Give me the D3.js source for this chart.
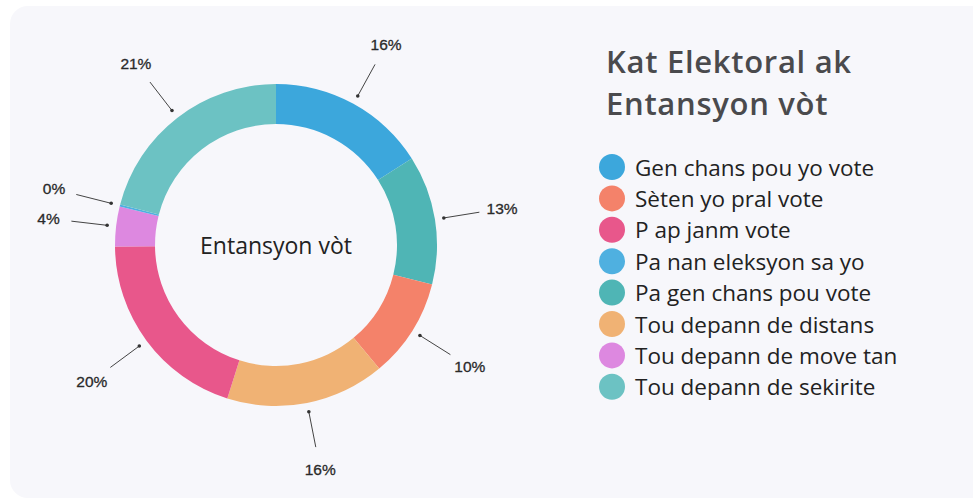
<!DOCTYPE html>
<html>
<head>
<meta charset="utf-8">
<script src="https://cdn.jsdelivr.net/npm/d3@7"></script>
<style>
  html, body { margin: 0; padding: 0; background: #fff; }
  svg { display: block; }
</style>
</head>
<body>
<div id="chart"></div>
<script>
// slices, clockwise from 12 o'clock
const categories = ["Gen chans pou yo vote", "Pa gen chans pou vote", "Sèten yo pral vote", "Tou depann de distans", "P ap janm vote", "Tou depann de move tan", "Pa nan eleksyon sa yo", "Tou depann de sekirite"];
const values = [16, 13, 10, 16, 20, 4, 0.2, 21];
const sliceColors = ["#3ca7dc", "#4fb5b5", "#f4826a", "#f0b274", "#e8578b", "#dd88e0", "#4fb0e0", "#6cc2c3"];

// legend order
const legendLabels = ["Gen chans pou yo vote", "Sèten yo pral vote", "P ap janm vote", "Pa nan eleksyon sa yo", "Pa gen chans pou vote", "Tou depann de distans", "Tou depann de move tan", "Tou depann de sekirite"];

const title = ["Kat Elektoral ak", "Entansyon vòt"];
const centerText = "Entansyon vòt";

const width = 973, height = 500;
const cx = 276, cy = 245;

const color = d3.scaleOrdinal().domain(categories).range(sliceColors);

const svg = d3.select("#chart")
  .append("svg")
  .attr("width", width)
  .attr("height", height)
  .attr("viewBox", [0, 0, width, height]);

// card
svg.append("rect")
  .attr("x", 10).attr("y", 6)
  .attr("width", 990).attr("height", 492)
  .attr("rx", 18)
  .attr("fill", "#f7f7fb");

const pie = d3.pie().sort(null).value(d => d.value);
const arcs = pie(categories.map((c, i) => ({ name: c, value: values[i] })));

const arc = d3.arc().innerRadius(121).outerRadius(161);
const dotArc = d3.arc().innerRadius(170).outerRadius(170);
const lineArc = d3.arc().innerRadius(206).outerRadius(206);
const labelArc = d3.arc().innerRadius(229).outerRadius(229);

const g = svg.append("g").attr("transform", `translate(${cx},${cy})`);

g.selectAll("path.slice")
  .data(arcs)
  .join("path")
  .attr("class", "slice")
  .attr("fill", d => color(d.data.name))
  .attr("d", arc);

// leader lines
g.selectAll("line.lead")
  .data(arcs)
  .join("line")
  .attr("class", "lead")
  .attr("x1", d => dotArc.centroid(d)[0])
  .attr("y1", d => dotArc.centroid(d)[1])
  .attr("x2", d => lineArc.centroid(d)[0])
  .attr("y2", d => lineArc.centroid(d)[1])
  .attr("stroke", "#444")
  .attr("stroke-width", 1);

g.selectAll("circle.dot")
  .data(arcs)
  .join("circle")
  .attr("class", "dot")
  .attr("cx", d => dotArc.centroid(d)[0])
  .attr("cy", d => dotArc.centroid(d)[1])
  .attr("r", 1.8)
  .attr("fill", "#333");

g.selectAll("text.pct")
  .data(arcs)
  .join("text")
  .attr("class", "pct")
  .attr("x", d => labelArc.centroid(d)[0])
  .attr("y", d => labelArc.centroid(d)[1])
  .attr("text-anchor", "middle")
  .attr("dominant-baseline", "central")
  .attr("font-family", "Liberation Sans, Arial, sans-serif")
  .attr("font-size", 15.5)
  .attr("fill", "#2a2a2a")
  .attr("stroke", "#2a2a2a")
  .attr("stroke-width", 0.3)
  .text(d => Math.round(d.data.value) + "%");

g.append("text")
  .attr("text-anchor", "middle")
  .attr("dominant-baseline", "central")
  .attr("font-family", "Open Sans, sans-serif")
  .attr("font-size", 23)
  .attr("fill", "#222")
  .text(centerText);

// title
svg.append("g")
  .selectAll("text")
  .data(title)
  .join("text")
  .attr("x", 606)
  .attr("y", (d, i) => 73 + i * 42)
  .attr("font-family", "Open Sans, sans-serif")
  .attr("font-weight", 600)
  .attr("font-size", 31)
  .attr("letter-spacing", 0.7)
  .attr("fill", "#4a4a4d")
  .text(d => d);

// legend
const legend = svg.append("g")
  .selectAll("g")
  .data(legendLabels)
  .join("g")
  .attr("transform", (d, i) => `translate(612,${167 + i * 31.4})`);

legend.append("circle")
  .attr("r", 13)
  .attr("fill", d => color(d));

legend.append("text")
  .attr("x", 23)
  .attr("dominant-baseline", "central")
  .attr("font-family", "Open Sans, sans-serif")
  .attr("font-size", 22.5)
  .attr("fill", "#222")
  .text(d => d);
</script>
</body>
</html>
